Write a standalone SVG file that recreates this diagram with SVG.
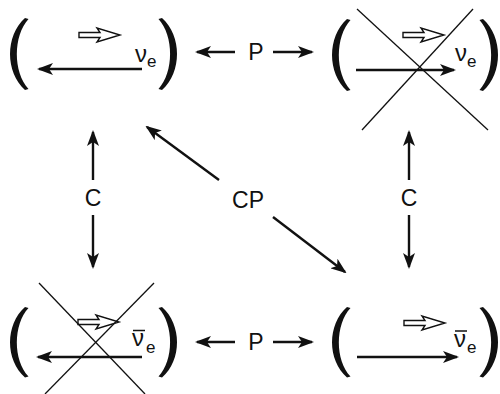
<svg xmlns="http://www.w3.org/2000/svg" xmlns:xlink="http://www.w3.org/1999/xlink" width="500" height="394" viewBox="0 0 500 394">
<style>
text{font-family:"Liberation Sans",Arial,sans-serif;fill:#111}
.lbl{font-size:23px;text-anchor:middle}
.nu{font-size:24px}
.sub{font-size:17px}
.arr{stroke:#111;stroke-width:2.4;fill:none;marker-end:url(#ah)}
.sol{stroke:#111;stroke-width:2.6;fill:none;marker-end:url(#ah)}
.x{stroke:#111;stroke-width:1.3}
.hol{fill:#fff;stroke:#111;stroke-width:1.4;stroke-linejoin:miter}
.par{fill:#111}
.bar{stroke:#111;stroke-width:1.5}
</style>
<defs>
<marker id="ah" viewBox="0 0 16 12" refX="14" refY="6" markerWidth="16" markerHeight="12" markerUnits="userSpaceOnUse" orient="auto">
<path d="M0,0 L16,6 L0,12 L4,6 Z" fill="#111"/>
</marker>
<path id="lp" d="M15 0 C-5 18 -5 54 15 72 L18.5 71 C3 54 3 18 18.5 1 Z"/>
<polygon id="ha" points="0,-2.5 21,-2.5 18,-7 41,0 18,7 21,2.5 0,2.5"/>
</defs>

<g id="node-tl">
<use xlink:href="#lp" class="par" transform="translate(10,18)"/>
<use xlink:href="#lp" class="par" transform="translate(177,18) scale(-1,1)"/>
<use xlink:href="#ha" class="hol" transform="translate(79,35)"/>
<line class="sol" x1="142" y1="69" x2="39" y2="69"/>
<text class="nu" x="135" y="62">ν</text>
<text class="sub" x="147" y="67">e</text>
</g>

<g id="node-tr">
<use xlink:href="#lp" class="par" transform="translate(332,19)"/>
<use xlink:href="#lp" class="par" transform="translate(498,19) scale(-1,1)"/>
<use xlink:href="#ha" class="hol" transform="translate(403,35)"/>
<line class="sol" x1="356" y1="70" x2="454" y2="70"/>
<line class="x" x1="357" y1="9" x2="488" y2="130"/>
<line class="x" x1="473" y1="9" x2="362" y2="130"/>
<text class="nu" x="455" y="61">ν</text>
<text class="sub" x="467" y="67">e</text>
</g>

<g id="node-bl">
<use xlink:href="#lp" class="par" transform="translate(10,307) scale(1,0.98)"/>
<use xlink:href="#lp" class="par" transform="translate(177,307) scale(-1,0.98)"/>
<use xlink:href="#ha" class="hol" transform="translate(78,322)"/>
<line class="sol" x1="142" y1="357" x2="38" y2="357"/>
<line class="x" x1="39" y1="283" x2="145" y2="394"/>
<line class="x" x1="154" y1="283" x2="45" y2="394"/>
<line class="bar" x1="133" y1="330.5" x2="145" y2="330.5"/>
<text class="nu" x="132" y="346">ν</text>
<text class="sub" x="146" y="353">e</text>
</g>

<g id="node-br">
<use xlink:href="#lp" class="par" transform="translate(332,307) scale(1,0.98)"/>
<use xlink:href="#lp" class="par" transform="translate(498,307) scale(-1,0.98)"/>
<use xlink:href="#ha" class="hol" transform="translate(404,323)"/>
<line class="sol" x1="357" y1="357" x2="457" y2="357"/>
<line class="bar" x1="455" y1="331" x2="467" y2="331"/>
<text class="nu" x="454" y="347">ν</text>
<text class="sub" x="467" y="353">e</text>
</g>

<g id="connectors">
<line class="arr" x1="235" y1="52" x2="197" y2="52"/>
<line class="arr" x1="273" y1="52" x2="312" y2="52"/>
<line class="arr" x1="235" y1="342" x2="197" y2="342"/>
<line class="arr" x1="273" y1="342" x2="312" y2="342"/>
<line class="arr" x1="93" y1="180" x2="93" y2="132"/>
<line class="arr" x1="93" y1="215" x2="93" y2="267"/>
<line class="arr" x1="409" y1="180" x2="409" y2="132"/>
<line class="arr" x1="409" y1="215" x2="409" y2="267"/>
<line class="arr" x1="219" y1="180" x2="147" y2="127"/>
<line class="arr" x1="273" y1="217" x2="345" y2="272"/>
<text class="lbl" x="256" y="60">P</text>
<text class="lbl" x="256" y="350">P</text>
<text class="lbl" x="93" y="206">C</text>
<text class="lbl" x="409" y="206">C</text>
<text class="lbl" x="248" y="208">CP</text>
</g>
</svg>
